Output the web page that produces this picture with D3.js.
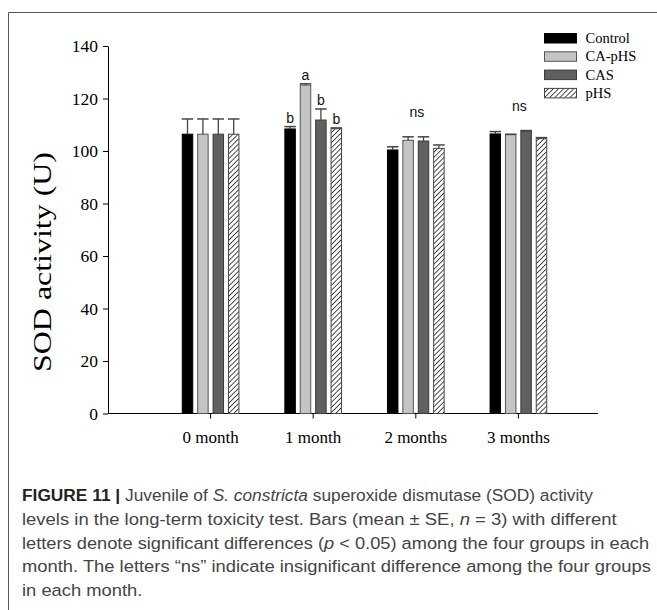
<!DOCTYPE html>
<html>
<head>
<meta charset="utf-8">
<script src="https://cdn.jsdelivr.net/npm/d3@7"></script>
<style>
  html, body { margin: 0; padding: 0; background: #fff; }
  svg { display: block; }
</style>
</head>
<body>
<svg id="fig" width="657" height="610"></svg>
<script>
// Sampling months and treatment groups
const months = ["0 month", "1 month", "2 months", "3 months"];
const groups = ["Control", "CA-pHS", "CAS", "pHS"];

// Mean SOD activity (U) per group, one entry per month
const controlMean = [106.4, 108.4, 100.4, 106.5];
const caphsMean   = [106.4, 125.1, 104.1, 106.2];
const casMean     = [106.4, 111.8, 103.8, 107.6];
const phsMean     = [106.4, 108.5, 101.0, 104.7];

// Standard errors
const controlSE = [5.8, 0.9, 1.2, 0.9];
const caphsSE   = [5.8, 0.5, 1.3, 0.2];
const casSE     = [5.8, 4.2, 1.6, 0.2];
const phsSE     = [5.8, 0.3, 1.3, 0.4];

// Significance letters per month (null = none, "ns" = not significant)
const letters1 = ["b", "a", "b", "b"];
const monthLabels = [null, letters1, "ns", "ns"];

const yTicks = [0, 20, 40, 60, 80, 100, 120, 140];

const means = [controlMean, caphsMean, casMean, phsMean];
const ses = [controlSE, caphsSE, casSE, phsSE];

const svg = d3.select("#fig");

// outer frame (top and left rules)
svg.append("path")
  .attr("d", "M8.5,610 V12.5 H657")
  .attr("fill", "none")
  .attr("stroke", "#555")
  .attr("stroke-width", 1);

// hatch pattern for pHS
const defs = svg.append("defs");
const pat = defs.append("pattern")
  .attr("id", "hatch")
  .attr("patternUnits", "userSpaceOnUse")
  .attr("width", 3.6).attr("height", 3.6)
  .attr("patternTransform", "rotate(45)");
pat.append("rect").attr("width", 3.6).attr("height", 3.6).attr("fill", "#fff");
pat.append("line")
  .attr("x1", 0).attr("y1", 0).attr("x2", 0).attr("y2", 3.6)
  .attr("stroke", "#111").attr("stroke-width", 1.5);

const fills = ["#000000", "#c4c4c4", "#606060", "url(#hatch)"];
const strokes = ["#000000", "#555555", "#3a3a3a", "#444444"];

// scales
const axisLeft = 108, axisRight = 598;
const y = d3.scaleLinear().domain([0, 140]).range([413.5, 46]);
const step = 102.6;
const x = d3.scaleBand().domain(months)
  .range([axisLeft + step / 2, axisLeft + step / 2 + step * 4])
  .paddingInner(0).paddingOuter(0);
const sub = d3.scaleBand().domain(groups)
  .range([-30.8, 30.8]).paddingInner(0.32).paddingOuter(0.16);

const serif = "'Liberation Serif', 'Times New Roman', serif";
const sans = "'Liberation Sans', Arial, sans-serif";

// y axis
const yAxis = svg.append("g")
  .attr("transform", `translate(${axisLeft},0)`)
  .call(d3.axisLeft(y).tickValues(yTicks).tickSize(5).tickSizeOuter(0).tickPadding(5));
yAxis.select(".domain").attr("stroke", "#000");
yAxis.selectAll(".tick line").attr("stroke", "#000");
yAxis.selectAll(".tick text")
  .attr("font-family", serif).attr("font-size", 17.5).attr("fill", "#000");

// x axis
const xLin = d3.scaleLinear().domain([0, 1]).range([axisLeft, axisRight]);
svg.append("line")
  .attr("x1", xLin(0)).attr("x2", xLin(1))
  .attr("y1", y(0)).attr("y2", y(0))
  .attr("stroke", "#000").attr("stroke-width", 1);
const xAxis = svg.append("g")
  .attr("transform", `translate(0,${y(0)})`)
  .call(d3.axisBottom(x).tickSize(5).tickSizeOuter(0).tickPadding(12));
xAxis.select(".domain").remove();
xAxis.selectAll(".tick line").attr("stroke", "#000");
xAxis.selectAll(".tick text")
  .attr("font-family", serif).attr("font-size", 17).attr("fill", "#000");

// bars
const rows = [];
months.forEach((m, i) => {
  groups.forEach((g, j) => {
    rows.push({ month: m, mi: i, group: g, gi: j, v: means[j][i], e: ses[j][i] });
  });
});

const bw = sub.bandwidth();
const barX = d => x(d.month) + x.bandwidth() / 2 + sub(d.group);

const plot = svg.append("g");
plot.selectAll("rect.bar")
  .data(rows)
  .join("rect")
  .attr("class", "bar")
  .attr("x", d => barX(d))
  .attr("width", bw)
  .attr("y", d => y(d.v))
  .attr("height", d => y(0) - y(d.v))
  .attr("fill", d => fills[d.gi])
  .attr("stroke", d => strokes[d.gi])
  .attr("stroke-width", 1);

// error bars (upper only)
const eb = plot.selectAll("g.err").data(rows).join("g").attr("class", "err");
eb.append("line")
  .attr("x1", d => barX(d) + bw / 2).attr("x2", d => barX(d) + bw / 2)
  .attr("y1", d => y(d.v)).attr("y2", d => y(d.v + d.e))
  .attr("stroke", "#444").attr("stroke-width", 1.3);
eb.append("line")
  .attr("x1", d => barX(d) - 0.5).attr("x2", d => barX(d) + bw + 0.5)
  .attr("y1", d => y(d.v + d.e)).attr("y2", d => y(d.v + d.e))
  .attr("stroke", "#444").attr("stroke-width", 1.5);

// significance letters
monthLabels.forEach((lab, i) => {
  if (!lab) return;
  const m = months[i];
  if (Array.isArray(lab)) {
    lab.forEach((t, j) => {
      const d = rows.find(r => r.mi === i && r.gi === j);
      svg.append("text")
        .attr("x", barX(d) + bw / 2)
        .attr("y", y(d.v + d.e) - 4)
        .attr("text-anchor", "middle")
        .attr("font-family", sans).attr("font-size", 14)
        .attr("fill", "#111")
        .text(t);
    });
  } else {
    const top = d3.max(rows.filter(r => r.mi === i), r => r.v + r.e);
    svg.append("text")
      .attr("x", x(m) + x.bandwidth() / 2 + 1)
      .attr("y", y(top) - 20)
      .attr("text-anchor", "middle")
      .attr("font-family", sans).attr("font-size", 14)
      .attr("fill", "#111")
      .text(lab);
  }
});

// y axis title
svg.append("text")
  .attr("transform", "translate(51,262) rotate(-90)")
  .attr("text-anchor", "middle")
  .attr("font-family", serif).attr("font-size", 25)
  .attr("textLength", 220).attr("lengthAdjust", "spacingAndGlyphs")
  .attr("fill", "#000")
  .text("SOD activity (U)");

// legend
const legend = svg.append("g");
groups.forEach((g, j) => {
  const ly = 38 + j * 18.3;
  legend.append("rect")
    .attr("x", 544.5).attr("y", ly - 4.5)
    .attr("width", 32).attr("height", 9.5)
    .attr("fill", fills[j]).attr("stroke", strokes[j]).attr("stroke-width", 1);
  legend.append("text")
    .attr("x", 585.5).attr("y", ly + 5)
    .attr("font-family", serif).attr("font-size", 14.5)
    .attr("fill", "#000")
    .text(g);
});

// caption
const capLines = [
  [["FIGURE 11 |", "b"], [" Juvenile of ", ""], ["S. constricta", "i"], [" superoxide dismutase (SOD) activity", ""]],
  [["levels in the long-term toxicity test. Bars (mean \u00b1 SE, ", ""], ["n", "i"], [" = 3) with different", ""]],
  [["letters denote significant differences (", ""], ["p", "i"], [" < 0.05) among the four groups in each", ""]],
  [["month. The letters \u201cns\u201d indicate insignificant difference among the four groups", ""]],
  [["in each month.", ""]]
];
// right edge of each caption line (last line follows the shared scale)
const capRight = [593, 617, 650, 651, null];
const capNodes = capLines.map((parts) => {
  const t = svg.append("text")
    .attr("font-family", sans).attr("font-size", 17)
    .attr("fill", "#444");
  parts.forEach(([s, st]) => {
    const ts = t.append("tspan").text(s);
    if (st === "b") ts.attr("font-weight", "bold").attr("fill", "#222");
    if (st === "i") ts.attr("font-style", "italic");
  });
  return t;
});
const shared = (651 - 22) / capNodes[3].node().getComputedTextLength();
capNodes.forEach((t, k) => {
  const w = t.node().getComputedTextLength();
  const sx = capRight[k] ? (capRight[k] - 22) / w : shared;
  t.attr("transform", `translate(22,${501 + k * 23.75}) scale(${sx},1)`);
});
</script>
</body>
</html>
